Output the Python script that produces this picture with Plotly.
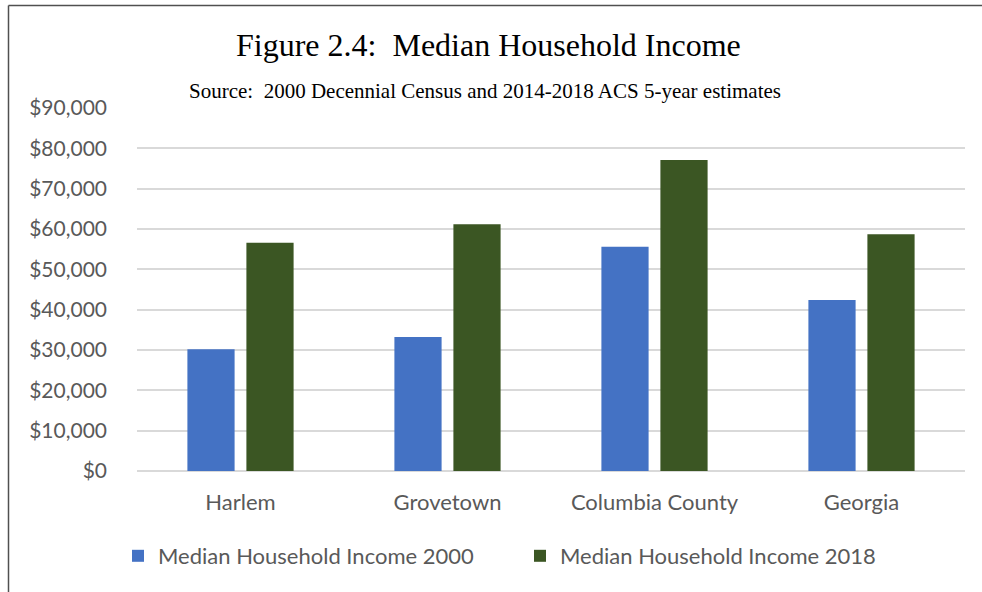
import plotly.graph_objects as go

categories = ["Harlem", "Grovetown", "Columbia County", "Georgia"]
income_2000 = [30200, 33200, 55600, 42400]
income_2018 = [56600, 61200, 77100, 58700]
series_names = ["Median Household Income 2000", "Median Household Income 2018"]
y_ticks = [0, 10000, 20000, 30000, 40000, 50000, 60000, 70000, 80000, 90000]
y_tick_labels = ["$0", "$10,000", "$20,000", "$30,000", "$40,000", "$50,000",
                 "$60,000", "$70,000", "$80,000", "$90,000"]

W, H = 982, 592
L, R, T, B = 137, 17, 108, 121
PW, PH = W - L - R, H - T - B

fig = go.Figure()
fig.add_trace(go.Bar(x=categories, y=income_2000, name=series_names[0],
                     marker=dict(color="#4472C4", line=dict(width=0))))
fig.add_trace(go.Bar(x=categories, y=income_2018, name=series_names[1],
                     marker=dict(color="#3B5623", line=dict(width=0))))

tick_font = dict(family="Lato, Open Sans, sans-serif", size=21, color="#595959")
cat_font = dict(family="Lato, Open Sans, sans-serif", size=22, color="#595959")

fig.update_layout(
    width=W, height=H,
    margin=dict(l=L, r=R, t=T, b=B, autoexpand=False),
    paper_bgcolor="white", plot_bgcolor="white",
    barmode="group", bargap=0.43, bargroupgap=0.2,
    showlegend=True,
    legend=dict(orientation="h", x=(118 - L) / PW, xanchor="left",
                y=-(556 - (H - B)) / PH, yanchor="middle",
                font=cat_font, entrywidth=357, entrywidthmode="pixels",
                itemwidth=30, bgcolor="rgba(0,0,0,0)"),
    xaxis=dict(showgrid=False, showline=False, zeroline=False, ticks="",
               tickfont=cat_font, ticklabelstandoff=16),
    yaxis=dict(range=[0, 90000], tickvals=y_ticks, ticktext=y_tick_labels,
               showgrid=True, gridcolor="#D9D9D9", gridwidth=1.6,
               zeroline=True, zerolinecolor="#D9D9D9", zerolinewidth=1.6,
               showline=False, ticks="", tickfont=tick_font,
               ticklabelstandoff=29),
)

fig.add_annotation(text="Figure 2.4:\u00a0\u00a0Median Household Income", xref="paper", yref="paper",
                   x=(488 - L) / PW, y=1 + (T - 45) / PH,
                   xanchor="center", yanchor="middle", showarrow=False,
                   font=dict(family="Liberation Serif, Times New Roman, serif", size=32, color="black"))
fig.add_annotation(text="Source:\u00a0\u00a02000 Decennial Census and 2014-2018 ACS 5-year estimates",
                   xref="paper", yref="paper",
                   x=(485 - L) / PW, y=1 + (T - 91) / PH,
                   xanchor="center", yanchor="middle", showarrow=False,
                   font=dict(family="Liberation Serif, Times New Roman, serif", size=21, color="black"))

# chart border (left and top visible in the reference)
x0 = -(L - 8.5) / PW
y0 = 1 + (T - 5.5) / PH
fig.add_shape(type="line", xref="paper", yref="paper", x0=x0, x1=x0, y0=y0, y1=-B / PH - 0.01,
              line=dict(color="#505050", width=1.5))
fig.add_shape(type="line", xref="paper", yref="paper", x0=x0, x1=1 + R / PW + 0.01, y0=y0, y1=y0,
              line=dict(color="#505050", width=1.5))

fig.write_html("out.html", config={"displayModeBar": False},
               post_script="document.body.style.margin='0px';")
